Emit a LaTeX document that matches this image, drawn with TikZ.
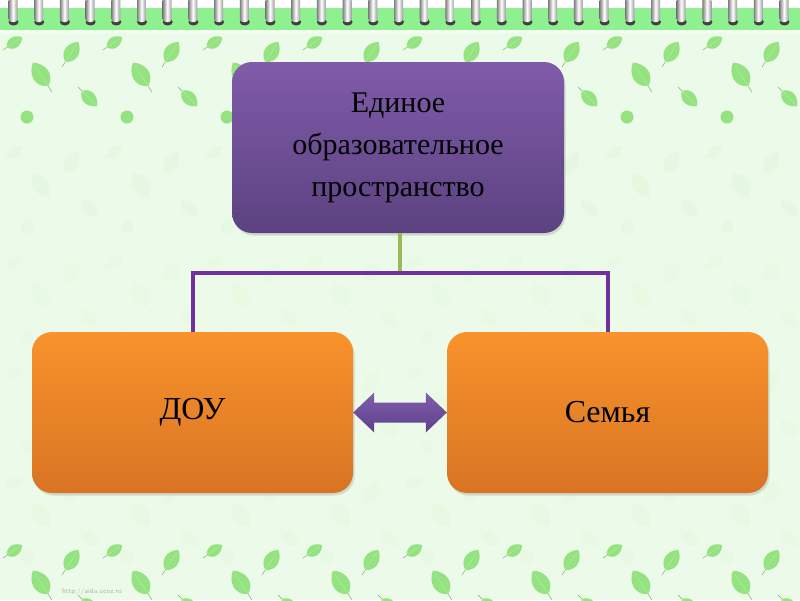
\documentclass[tikz,border=0pt]{standalone}
\usepackage{fontspec}
\setmainfont{Liberation Serif}
\usetikzlibrary{shadows,calc}
\definecolor{bgc}{RGB}{236,250,233}
\definecolor{bandc}{RGB}{143,240,143}
\definecolor{leafc}{RGB}{148,227,128}
\definecolor{purtop}{RGB}{128,91,170}
\definecolor{purbot}{RGB}{92,66,128}
\definecolor{ortop}{RGB}{248,147,45}
\definecolor{orbot}{RGB}{216,116,34}
\definecolor{linep}{RGB}{112,48,160}
\definecolor{lineg}{RGB}{155,187,89}
\definecolor{arrtop}{RGB}{128,94,172}
\definecolor{arrbot}{RGB}{94,64,140}
\begin{document}
\begin{tikzpicture}[x=1pt,y=-1pt,
  leafpic/.pic={
    \draw[leafc!80!black,line width=0.5pt] (0,0) -- (2,0);
    \fill[leafc] (2,0) .. controls (4,3.6) and (8,2.8) .. (10,0) .. controls (8,-2.8) and (4,-3.6) .. (2,0);
    \draw[leafc!70!white,line width=0.4pt] (2,0) -- (9,0);
  },
  box/.style={rounded corners=20pt, inner sep=0pt, align=center,
    drop shadow={opacity=0.25, shadow xshift=1.5pt, shadow yshift=-2.5pt}},
  topbox/.style={box, top color=purtop, bottom color=purbot,
    minimum width=332pt, minimum height=171pt, font=\fontsize{30}{42}\selectfont},
  lowbox/.style={box, top color=ortop, bottom color=orbot,
    minimum width=321pt, minimum height=161pt, font=\fontsize{32}{38}\selectfont},
  plink/.style={draw=linep, line width=4pt},
  glink/.style={draw=lineg, line width=4pt},
]
\useasboundingbox (0,0) rectangle (800,600);
% background
\fill[bgc] (0,0) rectangle (800,600);
\fill[white] (0,0) rectangle (800,8);
\fill[bandc] (0,8) rectangle (800,30);
\fill[white,opacity=0.4] (0,30) rectangle (800,33);
% leaf pattern (top band, faint middle, bottom band)
\foreach \oy/\op in {0/1, 508/1, 110/0.06, 220/0.045, 330/0.045, 440/0.05} {
  \begin{scope}[opacity=\op]
  \foreach \ox in {-100,0,100,...,800} {
    \pic[rotate=34, scale=2.3] at (\ox+3,\oy+50) {leafpic};
    \pic[rotate=57, scale=3.0] at (\ox+62,\oy+67) {leafpic};
    \pic[rotate=123, scale=3.5] at (\ox+52,\oy+92) {leafpic};
    \pic[rotate=-45, scale=2.7] at (\ox+78,\oy+87) {leafpic};
    \fill[leafc] (\ox+27,\oy+117) circle (6.5);
  }
  \end{scope}
}
\fill[bgc] (0,126) rectangle (800,131);
% spiral rings
\foreach \i in {0,...,31} {
  \pgfmathsetmacro{\rx}{13+25.7*\i}
  \fill[black!75] (\rx+0.5,22) ellipse (5 and 3.5);
  \shade[left color=black!50, right color=black!40, middle color=white, rounded corners=3pt]
    (\rx-4.5,-4) rectangle (\rx+4.5,22);
}
% nodes
\node[topbox] (top) at (398,147.5) {Единое\\образовательное\\пространство};
\node[lowbox] (doy) at (192.5,412.5) {ДОУ};
\node[lowbox] (sem) at (607.5,412.5) {Семья};
\coordinate (j) at (400,273);
% connectors
\draw[glink] (top.south -| j) -- (j);
\draw[plink] (doy.north) |- (j) -| (sem.north);
\path[top color=arrtop, bottom color=arrbot]
  (doy.east) -- ++(21,-20) -- ++(0,10) -- ($(sem.west)+(-21,-10)$) -- ++(0,-10)
  -- (sem.west) -- ++(-21,20) -- ++(0,-10) -- ($(doy.east)+(21,10)$) -- ++(0,10) -- cycle;
% watermark
\node[font=\fontsize{7}{8}\sffamily, text=black!30] (wm) at (92,592) {http://aida.ucoz.ru};
\end{tikzpicture}
\end{document}
